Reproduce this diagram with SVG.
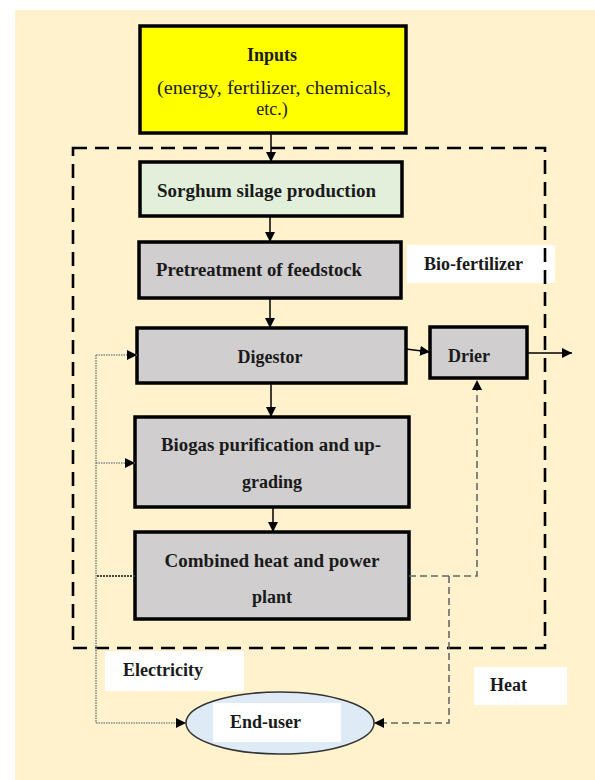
<svg xmlns="http://www.w3.org/2000/svg" width="595" height="780" viewBox="0 0 595 780">
<style>
.box{stroke:#000;stroke-width:3.5}
.t{font-family:"Liberation Serif","Times New Roman",serif;font-size:18px;fill:#1a1a1a}
.b{font-weight:bold}
.lbl{fill:#fff}
.solid{stroke:#000;stroke-width:1.5;fill:none}
.elec{stroke:#888;stroke-width:1.6;stroke-dasharray:1.5 1;fill:none}
.heat{stroke:#666;stroke-width:1.6;stroke-dasharray:7 4;fill:none}
</style>
<defs>
<marker id="ah" markerUnits="userSpaceOnUse" markerWidth="11" markerHeight="11" refX="10" refY="5" orient="auto">
<path d="M0,0 L10,5 L0,10 z" fill="#000"/>
</marker>
</defs>
<rect x="15" y="10" width="580" height="770" fill="#FFF2CC"/>

<g id="inputs">
<rect class="box" x="140" y="26" width="266" height="107" fill="#FFFF00"/>
<text class="t b" x="272" y="61" text-anchor="middle">Inputs</text>
<text class="t" x="274" y="94" text-anchor="middle" textLength="234" lengthAdjust="spacingAndGlyphs">(energy, fertilizer, chemicals,</text>
<text class="t" x="272" y="115" text-anchor="middle">etc.)</text>
</g>
<g id="sorghum">
<rect class="box" x="140" y="162" width="262" height="54" fill="#E2EFDA"/>
<text class="t b" x="157" y="197" textLength="219" lengthAdjust="spacingAndGlyphs">Sorghum silage production</text>
</g>
<g id="pretreatment">
<rect class="box" x="139" y="242" width="262" height="56" fill="#D0CECE"/>
<text class="t b" x="156" y="276" textLength="206" lengthAdjust="spacingAndGlyphs">Pretreatment of feedstock</text>
</g>
<g id="biofertilizer">
<rect class="lbl" x="407" y="245" width="148" height="38"/>
<text class="t b" x="424" y="270">Bio-fertilizer</text>
</g>
<g id="digestor">
<rect class="box" x="137" y="328" width="269" height="55" fill="#D0CECE"/>
<text class="t b" x="270" y="363" text-anchor="middle">Digestor</text>
</g>
<g id="drier">
<rect class="box" x="430" y="327" width="97" height="51" fill="#D0CECE"/>
<text class="t b" x="448" y="362">Drier</text>
</g>
<g id="biogas">
<rect class="box" x="135" y="417" width="274" height="90" fill="#D0CECE"/>
<text class="t b" x="271" y="451" text-anchor="middle" textLength="220" lengthAdjust="spacingAndGlyphs">Biogas purification and up-</text>
<text class="t b" x="272" y="488" text-anchor="middle">grading</text>
</g>
<g id="chp">
<rect class="box" x="135" y="532" width="274" height="87" fill="#D0CECE"/>
<text class="t b" x="272" y="567" text-anchor="middle" textLength="215" lengthAdjust="spacingAndGlyphs">Combined heat and power</text>
<text class="t b" x="272" y="603" text-anchor="middle">plant</text>
</g>
<g id="electricity">
<rect class="lbl" x="105" y="651" width="139" height="40"/>
<text class="t b" x="123" y="676">Electricity</text>
</g>
<g id="heat">
<rect class="lbl" x="474" y="667" width="93" height="38"/>
<text class="t b" x="490" y="691">Heat</text>
</g>
<g id="enduser">
<ellipse cx="280" cy="723" rx="94" ry="31" fill="#DEEBF7" stroke="#333" stroke-width="1.5"/>
<rect class="lbl" x="213" y="703" width="128" height="39"/>
<text class="t b" x="230" y="728">End-user</text>
</g>

<rect id="boundary" x="73" y="148" width="472" height="500" fill="none" stroke="#000" stroke-width="2.6" stroke-dasharray="14 8"/>

<g id="connectors">
<line class="solid" x1="271" y1="133" x2="271" y2="162" marker-end="url(#ah)"/>
<line class="solid" x1="270" y1="216" x2="270" y2="242" marker-end="url(#ah)"/>
<line class="solid" x1="270" y1="298" x2="270" y2="328" marker-end="url(#ah)"/>
<line class="solid" x1="271" y1="383" x2="271" y2="417" marker-end="url(#ah)"/>
<line class="solid" x1="273" y1="507" x2="273" y2="532" marker-end="url(#ah)"/>
<line class="solid" x1="406" y1="349" x2="430" y2="352" marker-end="url(#ah)"/>
<line class="solid" x1="527" y1="353" x2="572" y2="353" marker-end="url(#ah)"/>
<line x1="135" y1="576" x2="96" y2="576" stroke="#444" stroke-width="2" stroke-dasharray="2 1"/>
<line class="elec" x1="96" y1="355" x2="96" y2="723"/>
<line class="elec" x1="96" y1="355" x2="137" y2="355" marker-end="url(#ah)"/>
<line class="elec" x1="96" y1="463" x2="135" y2="463" marker-end="url(#ah)"/>
<line class="elec" x1="96" y1="723" x2="186" y2="723" marker-end="url(#ah)"/>
<path class="heat" d="M409,576 H477 V380" marker-end="url(#ah)"/>
<path class="heat" d="M449,576 V723 H374" marker-end="url(#ah)"/>
</g>
</svg>
